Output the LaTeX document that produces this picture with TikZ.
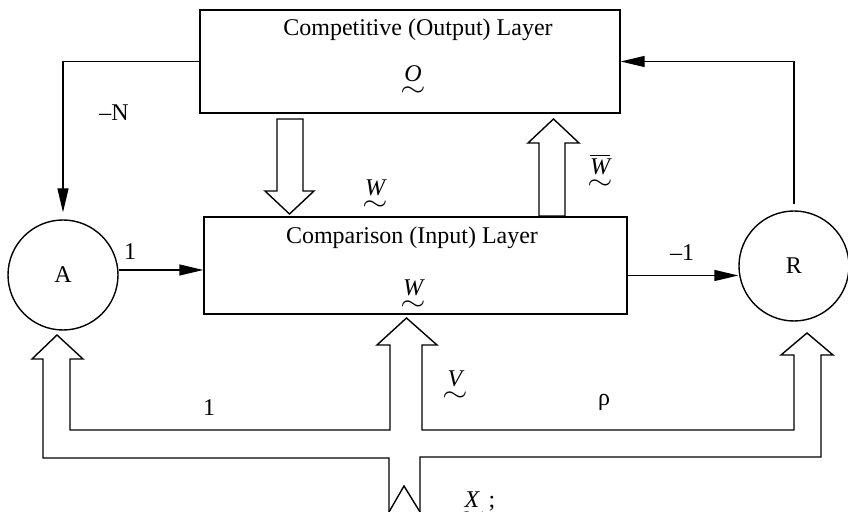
\documentclass[tikz,border=0pt]{standalone}
\usepackage{amsmath}
\usepackage{fontspec}
\setmainfont{Liberation Serif}
\usetikzlibrary{positioning, arrows.meta}
\newcommand{\undertilde}{\scalebox{1.35}[1.1]{$\sim$}}
\newcommand{\tvec}[1]{\ensuremath{\underset{\undertilde}{\mathit{#1}}}}

\begin{document}
\begin{tikzpicture}[x=0.5pt, y=-0.5pt, line width=0.7pt, font=\fontsize{12}{14}\selectfont,
    >={Triangle[length=12pt, width=5.5pt]},
    layerbox/.style={draw, inner sep=0pt},
    unit/.style={draw, circle, minimum size=55pt, inner sep=0pt},
    hollow/.style={draw, line join=miter}]
        \useasboundingbox (0,0) rectangle (848,512);

        % Camadas
        \node[layerbox, minimum width=210pt, minimum height=51.5pt] (out) at (410,61.5) {};
        \node[layerbox, minimum width=211.5pt, minimum height=48.5pt] (cmp) at (415.5,265.5) {};
        \node (outtxt) at (418,30) {Competitive (Output) Layer};
        \node (cmptxt) at (412,238) {Comparison (Input) Layer};
        \node (o) at (413,82) {\tvec{O}};
        \node (wcmp) at (413,296) {\tvec{W}};

        % Unidades A e R
        \node[unit] (A) at (63,275) {A};
        \node[unit] (R) at (794,266) {R};

        % Setas
        \draw[->, shorten >=3.5pt] (out.west) -| (A.north);
        \draw[->] ([yshift=2.5pt]A.east) -- ([yshift=2.5pt]A.east -| cmp.west);
        \draw[->] ([yshift=-5pt]cmp.east) -- ([yshift=-5pt]cmp.east -| R.west);
        \draw[->, shorten <=3pt] (R.north) |- (out.east);

        % Setas largas
        \draw[hollow] (277,119) -- (303,119) -- (303,191) -- (314,191) -- (289.5,214)
            -- (265,191) -- (277,191) -- cycle;
        \draw[hollow] (539,216) -- (539,143) -- (528,143) -- (553.5,119) -- (579,143)
            -- (565,143) -- (565,216) -- cycle;
        \draw[hollow] (389,512) -- (389,458) -- (43,458) -- (43,359) -- (32,359) -- (57,335)
            -- (83,359) -- (70,359) -- (70,430) -- (390,430) -- (390,345) -- (377,345)
            -- (406.5,318) -- (437,345) -- (422,345) -- (422,430) -- (794,430) -- (794,355)
            -- (781,355) -- (807,333) -- (833,355) -- (821,355) -- (821,457) -- (420,457)
            -- (420,512);
        \draw (389,512) -- (404,486) -- (420,512);

        % Rótulos
        \node (lN) at (114,113) {--N};
        \node (lA) at (130,252) {1};
        \node (lR) at (682,253) {--1};
        \node (lone) at (209,408) {1};
        \node (lrho) at (604,402) {ρ};
        \node (wdown) at (375,196) {\tvec{W}};
        \node (wup) at (600,173) {\ensuremath{\underset{\undertilde}{\overline{\mathit{W}}}}};
        \node (v) at (455,387) {\tvec{V}};
        \node[anchor=north west] (x) at (452,484) {\tvec{X}\,;};
    \end{tikzpicture}
\end{document}
